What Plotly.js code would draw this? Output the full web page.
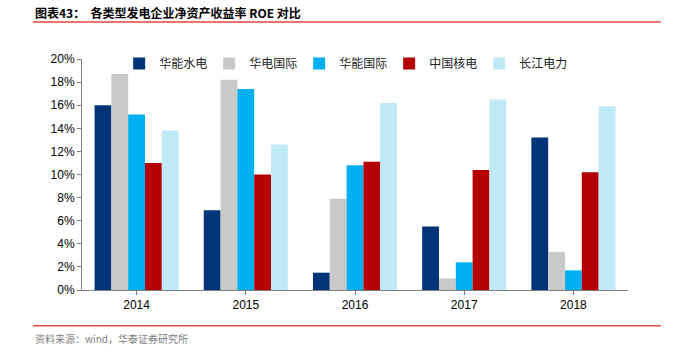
<!DOCTYPE html>
<html><head><meta charset="utf-8">
<script src="https://cdn.plot.ly/plotly-3.0.1.min.js"></script>
<style>body{margin:0;background:#fff}#c{width:674px;height:350px}</style>
</head><body><div id="c"></div>
<script>
const years = ['2014','2015','2016','2017','2018'];
const seriesNames = ['华能水电','华电国际','华能国际','中国核电','长江电力'];
const hnsd = [16.0, 6.9, 1.5, 5.5, 13.2];
const hdgj = [18.7, 18.2, 7.9, 1.0, 3.3];
const hngj = [15.2, 17.4, 10.8, 2.4, 1.7];
const zghd = [11.0, 10.0, 11.1, 10.4, 10.2];
const cjdl = [13.8, 12.6, 16.2, 16.5, 15.9];
const colors = ['#003478','#C9C9C9','#00B0F0','#B40000','#C0E9F8'];
const vals = [hnsd, hdgj, hngj, zghd, cjdl];
const traces = vals.map((v,i)=>({type:'bar', x:years, y:v.map(d=>d/100), name:seriesNames[i], marker:{color:colors[i]}}));
const cjk = '"Noto Sans CJK SC", sans-serif';
const layout = {
  width:674, height:350, margin:{l:82, r:46, t:59, b:60, autoexpand:false},
  paper_bgcolor:'#fff', plot_bgcolor:'#fff',
  barmode:'group', bargap:0.23, bargroupgap:0,
  font:{family:'"Liberation Sans", Arial, sans-serif', size:12, color:'#000'},
  xaxis:{showgrid:false, showline:true, linecolor:'#808080', linewidth:1, ticks:'outside', ticklen:4, tickcolor:'#808080', tickson:'boundaries', tickfont:{size:12}},
  yaxis:{range:[0,0.2], dtick:0.02, tickformat:'.0%', showgrid:false, showline:true, linecolor:'#808080', ticks:'outside', ticklen:4, tickcolor:'#808080', zeroline:false, tickfont:{size:12}},
  legend:{orientation:'h', x:0.068, y:0.98, xanchor:'left', yanchor:'middle', bgcolor:'rgba(0,0,0,0)', font:{family:cjk, size:12, color:'#222'}, itemwidth:10, entrywidth:45, traceorder:'normal'},
  showlegend:true,
  annotations:[
    {xref:'paper', yref:'paper', x:-0.09, y:1.2, xanchor:'left', yanchor:'middle', showarrow:false, text:'<b>图表43：  各类型发电企业净资产收益率 ROE 对比</b>', font:{family:cjk, size:12, color:'#000'}},
    {xref:'paper', yref:'paper', x:-0.09, y:-0.21, xanchor:'left', yanchor:'middle', showarrow:false, text:'资料来源：wind，华泰证券研究所', font:{family:cjk, size:10, color:'#808080'}}
  ],
  shapes:[
    {type:'line', xref:'paper', yref:'paper', x0:-0.09, x1:1.06, y0:1.16, y1:1.16, line:{color:'#E0483C', width:1.5}},
    {type:'line', xref:'paper', yref:'paper', x0:-0.09, x1:1.06, y0:-0.155, y1:-0.155, line:{color:'#E0483C', width:1.5}}
  ]
};
Plotly.newPlot('c', traces, layout, {displayModeBar:false, staticPlot:true});
</script></body></html>
